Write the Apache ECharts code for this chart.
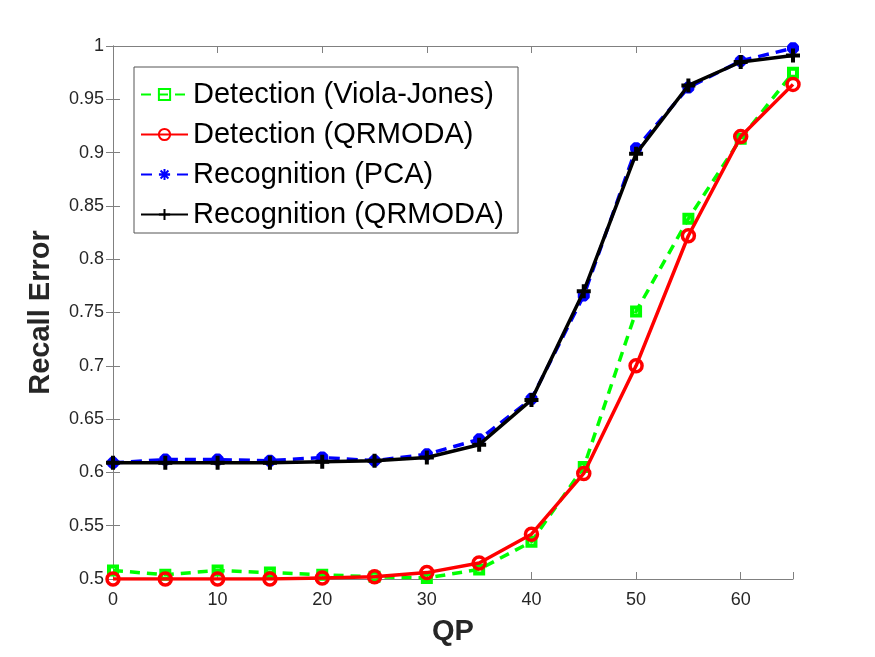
<!DOCTYPE html>
<html lang="en">
<head>
    <meta charset="utf-8">
    <title>Recall Error vs QP</title>
    <script src="https://cdn.jsdelivr.net/npm/echarts@6/dist/echarts.min.js"></script>
    <style>
        body { margin: 0; background: #fff; }
        #main { width: 875px; height: 657px; }
    </style>
</head>
<body>
<div id="main"></div>
<script type="text/javascript">
    // QP values on the x axis
    var qp = [0, 5, 10, 15, 20, 25, 30, 35, 40, 45, 50, 55, 60, 65];

    // recall error per series
    var violaJones = [0.508, 0.504, 0.508, 0.506, 0.504, 0.502, 0.501, 0.509, 0.535, 0.605, 0.751, 0.838, 0.913, 0.975];
    var detQrmoda  = [0.500, 0.500, 0.500, 0.500, 0.501, 0.502, 0.506, 0.515, 0.542, 0.599, 0.700, 0.822, 0.915, 0.964];
    var pca        = [0.609, 0.612, 0.612, 0.611, 0.614, 0.611, 0.617, 0.631, 0.669, 0.766, 0.904, 0.961, 0.986, 0.998];
    var recQrmoda  = [0.609, 0.609, 0.609, 0.609, 0.610, 0.611, 0.614, 0.626, 0.668, 0.770, 0.899, 0.963, 0.985, 0.991];

    var names = ['Detection (Viola-Jones)', 'Detection (QRMODA)', 'Recognition (PCA)', 'Recognition (QRMODA)'];

    function pairs(ys) {
        return qp.map(function (x, i) { return [x, ys[i]]; });
    }

    var font = 'Liberation Sans, Arial, Helvetica, sans-serif';
    var axisGray = '#808080';

    var myChart = echarts.init(document.getElementById('main'));

    myChart.setOption({
        animation: false,
        backgroundColor: '#fff',
        grid: { left: 113, right: 82, top: 46, bottom: 78, containLabel: false },
        legend: {
            data: names,
            orient: 'vertical',
            left: 134,
            top: 67,
            padding: [13, 14, 4, 6],
            itemWidth: 47,
            itemHeight: 14,
            itemGap: 11,
            backgroundColor: '#fff',
            borderColor: '#555',
            borderWidth: 1,
            borderRadius: 0,
            textStyle: { fontFamily: font, fontSize: 29, color: '#000' }
        },
        xAxis: [{
            type: 'value',
            min: 0, max: 65, interval: 10,
            name: 'QP',
            nameLocation: 'middle',
            nameGap: 38,
            nameTextStyle: { fontFamily: font, fontSize: 29, fontWeight: 'bold', color: '#262626' },
            axisLine: { lineStyle: { color: axisGray, width: 1 } },
            axisTick: { inside: true, length: 7, lineStyle: { color: axisGray } },
            axisLabel: {
                fontFamily: font, fontSize: 18, color: '#262626', margin: 12,
                formatter: function (v) { return v === 65 ? '' : v; }
            },
            splitLine: { show: false }
        }, {
            type: 'value',
            position: 'top',
            min: 0, max: 65, interval: 10,
            axisLine: { show: true, lineStyle: { color: axisGray, width: 1 } },
            axisTick: { inside: true, length: 7, lineStyle: { color: axisGray } },
            axisLabel: { show: false },
            splitLine: { show: false }
        }],
        yAxis: [{
            type: 'value',
            min: 0.5, max: 1, interval: 0.05,
            name: 'Recall Error',
            nameLocation: 'middle',
            nameGap: 58,
            nameTextStyle: { fontFamily: font, fontSize: 29, fontWeight: 'bold', color: '#262626' },
            axisLine: { show: true, lineStyle: { color: axisGray, width: 1 } },
            axisTick: { show: true, inside: true, length: 7, lineStyle: { color: axisGray } },
            axisLabel: {
                fontFamily: font, fontSize: 18, color: '#262626', margin: 9,
                formatter: function (v) { return String(+v.toFixed(2)); }
            },
            splitLine: { show: false }
        }, {
            type: 'value',
            position: 'right',
            min: 0.5, max: 1, interval: 0.05,
            axisLine: { show: true, lineStyle: { color: axisGray, width: 1 } },
            axisTick: { show: true, inside: true, length: 7, lineStyle: { color: axisGray } },
            axisLabel: { show: false },
            splitLine: { show: false }
        }],
        series: [{
            name: names[0],
            type: 'line',
            data: pairs(violaJones),
            symbol: 'rect',
            symbolSize: 8,
            lineStyle: { color: '#00ff00', width: 3.5, type: [10, 7] },
            itemStyle: { color: 'rgba(255,255,255,0)', borderColor: '#00ff00', borderWidth: 4 },
            z: 2
        }, {
            name: names[1],
            type: 'line',
            data: pairs(detQrmoda),
            symbol: 'circle',
            symbolSize: 12,
            lineStyle: { color: '#ff0000', width: 3.5 },
            itemStyle: { color: 'rgba(255,255,255,0)', borderColor: '#ff0000', borderWidth: 3.5 },
            z: 3
        }, {
            name: names[2],
            type: 'line',
            data: pairs(pca),
            symbol: 'path://M0,-10L0,10M-10,0L10,0M-7,-7L7,7M-7,7L7,-7',
            symbolSize: 12,
            lineStyle: { color: '#0000ff', width: 3.5, type: [11, 7] },
            itemStyle: { color: '#0000ff', borderColor: '#0000ff', borderWidth: 4.5 },
            z: 2
        }, {
            name: names[3],
            type: 'line',
            data: pairs(recQrmoda),
            symbol: 'path://M0,-10L0,10M-10,0L10,0',
            symbolSize: 14,
            lineStyle: { color: '#000000', width: 3.5 },
            itemStyle: { color: '#000000', borderColor: '#000000', borderWidth: 4 },
            z: 3
        }]
    });
</script>
</body>
</html>
